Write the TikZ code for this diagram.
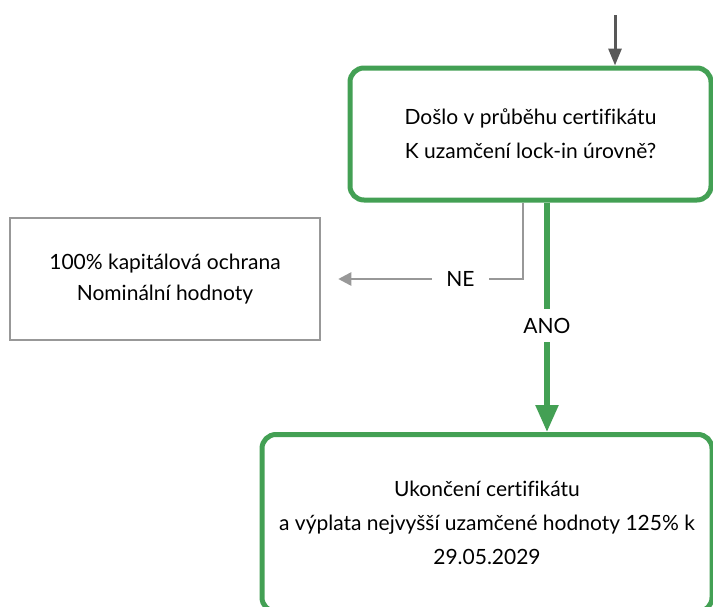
\documentclass[tikz,border=0pt]{standalone}
\usepackage{fontspec}
\setmainfont{Lato}[Ligatures=NoCommon]
\usetikzlibrary{arrows.meta}
\definecolor{inggreen}{RGB}{67,160,84}
\definecolor{inggray}{RGB}{152,152,152}
\definecolor{ingdark}{RGB}{88,88,88}
\tikzset{ gbox/.style = { rectangle
                        , rounded corners = 14pt
                        , draw = inggreen
                        , line width   = 5pt
                        , align        = center
                        },
          pbox/.style = { rectangle
                        , draw = inggray
                        , line width   = 2.5pt
                        , align        = center
                        },
          lbl/.style  = { fill = white
                        , text = black
                        , inner xsep   = 14pt
                        , inner ysep   = 6pt
                        }
        }

\begin{document}
\begin{tikzpicture}[x=1pt, y=-1pt, font=\fontsize{21}{34}\selectfont]
            \useasboundingbox (0,0) rectangle (713,606);
            \clip (0,0) rectangle (713,606);
            \node[gbox, minimum width=361pt, minimum height=132pt] (lock) at (530.5,134)
                {Došlo v průběhu certifikátu\\K uzamčení lock-in úrovně?};
            \node[pbox, minimum width=310pt, minimum height=122pt, font=\fontsize{21}{31}\selectfont] (capital) at (165,279)
                {100\% kapitálová ochrana\\Nominální hodnoty};
            \node[gbox, minimum width=450pt, minimum height=177pt] (payout) at (487,523)
                {Ukončení certifikátu\\a výplata nejvyšší uzamčené hodnoty 125\% k\\29.05.2029};
            \coordinate (entry) at (615,15);
            \coordinate (neturn) at (523,279);
            % vstup
            \draw[ingdark, line width=3pt, -{Triangle[length=17pt, width=13pt]}]
                (entry) -- (entry |- lock.north);
            % NE
            \draw[inggray, line width=2.5pt, -{Triangle[length=13pt, width=13pt]}, shorten >=17pt]
                (lock.south -| neturn) -- (neturn) -- node[lbl, pos=0.31] (ne) {NE} (capital.east);
            % ANO
            \draw[inggreen, line width=5.5pt, -{Triangle[length=27pt, width=22pt]}]
                (lock.south -| 547,0) -- node[lbl, pos=0.536, inner xsep=2pt, inner ysep=9pt] (ano) {ANO}
                (payout.north -| 547,0);
\end{tikzpicture}
\end{document}
